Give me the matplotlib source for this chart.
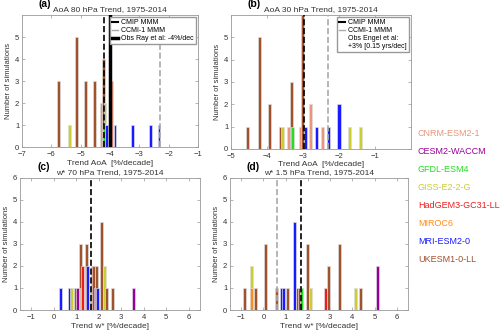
import matplotlib
matplotlib.use("Agg")
import matplotlib.pyplot as plt
from matplotlib.lines import Line2D

plt.rcParams['font.family'] = ['Liberation Sans', 'DejaVu Sans']
plt.rcParams['font.size'] = 5.5

models = ['CNRM-ESM2-1', 'CESM2-WACCM', 'GFDL-ESM4', 'GISS-E2-2-G',
          'HadGEM3-GC31-LL', 'MIROC6', 'MRI-ESM2-0', 'UKESM1-0-LL']
colors = ['#e9967a', '#990099', '#22dd22', '#cccc33',
          '#ee1c1c', '#ff8c1a', '#1a1aff', '#a0522d']

# panel (a): AoA 80 hPa
a_pos = [-5.74, -5.39, -5.14, -4.83, -4.52, -4.30, -4.22, -4.17, -4.18, -4.12, -3.94, -3.83, -3.23, -2.62, -2.33]
a_cnt = [3, 1, 5, 3, 3, 2, 4, 2, 1, 1, 3, 1, 1, 1, 1]
a_mod = [7, 3, 7, 7, 7, 0, 7, 3, 2, 6, 0, 6, 6, 6, 6]
a_cmip, a_ccmi, a_obs = -4.19, -2.30, -4.0

# panel (b): AoA 30 hPa
b_pos = [-4.53, -4.22, -3.92, -3.63, -3.56, -3.39, -3.31, -3.28, -3.07, -3.01, -2.92, -2.78, -2.62, -2.45, -2.30, -2.00, -1.72, -1.41]
b_cnt = [1, 5, 2, 1, 1, 1, 3, 1, 1, 6, 1, 2, 1, 1, 1, 2, 1, 1]
b_mod = [7, 7, 7, 7, 3, 0, 7, 2, 0, 7, 6, 0, 6, 0, 6, 6, 3, 3]
b_cmip, b_ccmi = -2.96, -2.31

# panel (c): w* 70 hPa
c_pos = [0.30, 0.70, 0.78, 0.97, 1.06, 1.19, 1.25, 1.27, 1.45, 1.49, 1.64, 1.66, 1.71, 1.76, 1.86, 1.91, 1.93, 2.13, 2.26, 2.35, 2.61, 3.54]
c_cnt = [1, 1, 1, 1, 1, 3, 1, 2, 3, 2, 1, 1, 2, 2, 1, 2, 1, 4, 2, 1, 1, 1]
c_mod = [6, 6, 3, 7, 1, 7, 3, 4, 7, 6, 5, 2, 4, 7, 1, 7, 6, 7, 3, 7, 7, 1]
c_cmip = 1.64

# panel (d): w* 1.5 hPa
d_pos = [-0.83, -0.53, -0.53, -0.35, 0.11, 0.59, 0.83, 0.90, 1.08, 1.41, 1.53, 1.61, 1.73, 1.98, 2.13, 2.78, 2.94, 3.41, 4.13, 4.35, 5.13]
d_cnt = [1, 2, 1, 1, 3, 1, 1, 1, 1, 4, 1, 1, 1, 3, 1, 1, 2, 3, 1, 1, 2]
d_mod = [7, 3, 5, 7, 7, 7, 6, 6, 7, 6, 7, 4, 2, 7, 3, 4, 7, 7, 3, 7, 1]
d_cmip, d_ccmi = 1.68, 0.60

fig = plt.figure(figsize=(5, 3.33), dpi=100)
ax_a = fig.add_axes([0.044, 0.558, 0.352, 0.397])
ax_b = fig.add_axes([0.462, 0.553, 0.360, 0.402])
ax_c = fig.add_axes([0.040, 0.069, 0.360, 0.397])
ax_d = fig.add_axes([0.460, 0.069, 0.356, 0.397])


def style(ax, xlim, xticks, xlabel, title, tag, ylab6=False):
    ax.set_xlim(*xlim)
    ax.set_ylim(0, 6)
    ax.set_xticks(xticks)
    ax.set_yticks(range(7) if ylab6 else range(6))
    ax.tick_params(direction='in', top=True, right=True, length=2,
                   width=0.5, color='#999999', labelsize=5.5,
                   labelcolor='#333333')
    ax.tick_params(axis='x', pad=3)
    ax.tick_params(axis='y', pad=2)
    for s in ax.spines.values():
        s.set_color('#999999')
        s.set_linewidth(0.6)
    ax.set_xlabel(xlabel, fontsize=6, labelpad=1, color='#333333')
    ax.set_ylabel('Number of simulations', fontsize=5.5, labelpad=2,
                  color='#333333')
    ax.set_title(title, fontsize=6, pad=3, color='#333333')
    ax.text(0.13, 1.045, tag, transform=ax.transAxes, fontsize=7.5,
            fontweight='bold', ha='center', va='bottom')


def bars(ax, pos, cnt, mod, w):
    for p, c, m in zip(pos, cnt, mod):
        ax.bar(p, c, width=w, color=colors[m], edgecolor='#dddddd',
               linewidth=0.5, zorder=2)


bars(ax_a, a_pos, a_cnt, a_mod, 0.1)
ax_a.axvline(a_ccmi, color='#aaaaaa', ls='--', lw=1.2, zorder=3)
ax_a.axvline(a_cmip, color='black', ls='--', lw=1.2, zorder=3)
ax_a.axvline(a_obs, color='black', ls='-', lw=2.5, zorder=3)
style(ax_a, (-7, -1), range(-7, 0), 'Trend AoA  [%/decade]',
      'AoA 80 hPa Trend, 1975-2014', '(a)')
h = [Line2D([], [], color='black', lw=1.5),
     Line2D([], [], color='#aaaaaa', lw=1.0),
     Line2D([], [], color='black', lw=2.5)]
ax_a.legend(h, ['CMIP MMM', 'CCMI-1 MMM', 'Obs Ray et al: -4%/dec'],
            loc='upper right', fontsize=5, handlelength=0.8, handletextpad=0.5,
            borderpad=0.3, labelspacing=0.15, fancybox=False,
            edgecolor='#999999', framealpha=1, borderaxespad=0.3)

bars(ax_b, b_pos, b_cnt, b_mod, 0.085)
ax_b.axvline(b_ccmi, color='#aaaaaa', ls='--', lw=1.2, zorder=3)
ax_b.axvline(b_cmip, color='black', ls='--', lw=1.2, zorder=3)
style(ax_b, (-5, 0), range(-5, 0), 'Trend AoA  [%/decade]',
      'AoA 30 hPa Trend, 1975-2014', '(b)')
h = [Line2D([], [], color='black', lw=1.5),
     Line2D([], [], color='#aaaaaa', lw=1.0),
     Line2D([], [], color='white', lw=0)]
ax_b.legend(h, ['CMIP MMM', 'CCMI-1 MMM', 'Obs Engel et al:\n+3% [0.15 yrs/dec]'],
            loc='upper right', fontsize=5, handlelength=0.8, handletextpad=0.5,
            borderpad=0.3, labelspacing=0.15, fancybox=False,
            edgecolor='#999999', framealpha=1, borderaxespad=0.3)

bars(ax_c, c_pos, c_cnt, c_mod, 0.13)
ax_c.axvline(c_cmip, color='black', ls='--', lw=1.2, zorder=3)
style(ax_c, (-1.5, 6.5), range(-1, 7), 'Trend w* [%/decade]',
      'w* 70 hPa Trend, 1975-2014', '(c)', ylab6=True)

bars(ax_d, d_pos, d_cnt, d_mod, 0.13)
ax_d.axvline(d_ccmi, color='#aaaaaa', ls='--', lw=1.2, zorder=3)
ax_d.axvline(d_cmip, color='black', ls='--', lw=1.2, zorder=3)
style(ax_d, (-1.5, 6.5), range(-1, 7), 'Trend w* [%/decade]',
      'w* 1.5 hPa Trend, 1975-2014', '(d)', ylab6=True)

for i, (m, c) in enumerate(zip(models, colors)):
    fig.text(0.836, 1 - (133 + i * 18.0) / 333, m, color=c, fontsize=6.5,
             va='center', ha='left')

fig.savefig('out.png', dpi=100)
